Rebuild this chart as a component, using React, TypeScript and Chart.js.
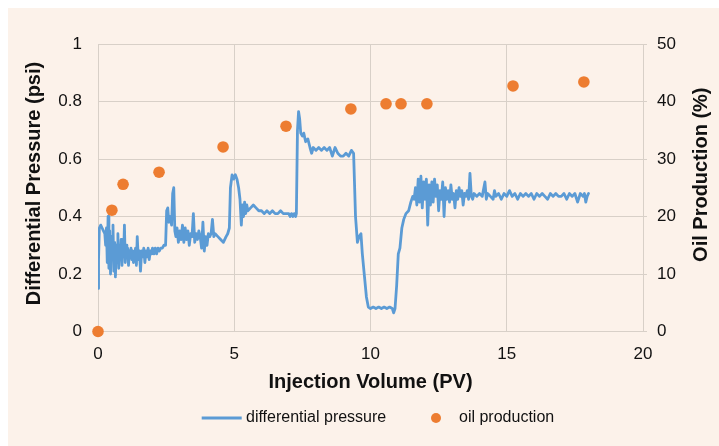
import React, { useEffect, useRef } from "react";
import { Chart, registerables } from "chart.js";

Chart.register(...registerables);

// Differential pressure (psi) vs injection volume (PV)
const pressureX = [
  0.0, 0.02, 0.05, 0.1, 0.15, 0.2, 0.25, 0.28, 0.31, 0.34, 0.37, 0.4, 0.43, 0.46, 0.49, 0.52, 0.55, 0.58, 0.61, 0.64,
  0.67, 0.7, 0.73, 0.76, 0.79, 0.82, 0.85, 0.88, 0.91, 0.94, 0.97, 1.0, 1.03, 1.06, 1.09, 1.12, 1.15, 1.18, 1.21, 1.24,
  1.27, 1.3, 1.34, 1.38, 1.41, 1.44, 1.48, 1.52, 1.56, 1.6, 1.64, 1.68, 1.72, 1.76, 1.8, 1.84, 1.88, 1.92, 1.96, 2.0,
  2.05, 2.1, 2.15, 2.2, 2.25, 2.3, 2.36,
  2.42, 2.48, 2.52, 2.56, 2.6, 2.65, 2.7, 2.74, 2.78, 2.82, 2.86, 2.9, 2.95, 3.0, 3.05, 3.1, 3.15, 3.2, 3.25, 3.3,
  3.35, 3.4, 3.45, 3.5, 3.55, 3.6, 3.65, 3.7, 3.75, 3.8, 3.85, 3.9, 3.95, 4.0, 4.05, 4.1, 4.15, 4.2, 4.25, 4.3, 4.4,
  4.5, 4.6, 4.7, 4.76,
  4.82, 4.86, 4.92, 4.98, 5.04, 5.1, 5.16, 5.21, 5.26, 5.3, 5.34, 5.38, 5.42, 5.46, 5.5, 5.6, 5.7, 5.8, 5.9, 6.0,
  6.1, 6.2, 6.3, 6.4, 6.5, 6.6, 6.7, 6.8, 6.9, 7.0, 7.05, 7.1, 7.15, 7.2, 7.25,
  7.28, 7.32, 7.36, 7.4, 7.44, 7.5, 7.55, 7.62, 7.7, 7.78, 7.84, 7.9, 8.0, 8.1, 8.2, 8.3, 8.4, 8.5, 8.6, 8.7, 8.8,
  8.9, 9.0, 9.1, 9.2, 9.3, 9.38, 9.45, 9.52, 9.58, 9.65, 9.7, 9.78, 9.85, 9.92,
  10.0, 10.1, 10.2, 10.3, 10.4, 10.5, 10.6, 10.7, 10.8, 10.85, 10.9, 10.96, 11.02, 11.08, 11.15, 11.22, 11.3, 11.4,
  11.48, 11.55,
  11.6, 11.65, 11.7, 11.75, 11.8, 11.85, 11.9, 11.95, 12.0, 12.05, 12.1, 12.15, 12.2, 12.25, 12.3, 12.35, 12.4,
  12.45, 12.5, 12.55, 12.6, 12.65, 12.7, 12.75, 12.8, 12.85, 12.9, 12.95, 13.0, 13.05, 13.1, 13.15, 13.2, 13.25,
  13.3, 13.35, 13.4, 13.45, 13.5, 13.55, 13.6, 13.65, 13.7, 13.75, 13.8, 13.9, 14.0, 14.1, 14.2, 14.25, 14.3, 14.4,
  14.5, 14.55, 14.6, 14.7, 14.8, 14.9, 15.0, 15.1, 15.2, 15.3, 15.4, 15.5, 15.6, 15.7, 15.8, 15.9, 16.0, 16.1, 16.2,
  16.3, 16.4, 16.5, 16.6, 16.7, 16.8, 16.9, 17.0, 17.1, 17.2, 17.3, 17.4, 17.5, 17.6, 17.7, 17.8, 17.85, 17.9,
  17.95, 18.0,
];
const pressureY = [
  0.15, 0.25, 0.36, 0.37, 0.36, 0.35, 0.34, 0.3, 0.36, 0.24, 0.4, 0.22, 0.35, 0.2, 0.33, 0.26, 0.37, 0.21, 0.31, 0.19,
  0.3, 0.24, 0.34, 0.22, 0.29, 0.25, 0.32, 0.23, 0.3, 0.26, 0.37, 0.24, 0.3, 0.26, 0.29, 0.23, 0.28, 0.26, 0.29, 0.25,
  0.28, 0.24, 0.27, 0.29, 0.23, 0.33, 0.25, 0.28, 0.21, 0.28, 0.26, 0.29, 0.24, 0.28, 0.26, 0.29, 0.25, 0.28, 0.27, 0.29,
  0.27, 0.29, 0.27, 0.29, 0.28, 0.29, 0.29,
  0.3, 0.3, 0.42, 0.43, 0.38, 0.4, 0.37, 0.48, 0.5, 0.35, 0.33, 0.36, 0.31, 0.35, 0.32, 0.37, 0.31, 0.36, 0.32, 0.35,
  0.3, 0.34, 0.33, 0.41, 0.31, 0.34, 0.32, 0.35, 0.33, 0.29, 0.38, 0.28, 0.33, 0.3, 0.34, 0.33, 0.34, 0.39, 0.33, 0.34, 0.33,
  0.32, 0.31, 0.33, 0.34,
  0.36, 0.5, 0.545, 0.53, 0.545, 0.53, 0.5, 0.46, 0.37, 0.44, 0.4, 0.45, 0.41, 0.44, 0.42, 0.43, 0.44, 0.43, 0.42, 0.42,
  0.41, 0.42, 0.41, 0.42, 0.41, 0.41, 0.42, 0.41, 0.41, 0.41, 0.4, 0.41, 0.4, 0.41, 0.4,
  0.41, 0.7, 0.765, 0.74, 0.69, 0.68, 0.69, 0.66, 0.67, 0.64, 0.62, 0.64, 0.63, 0.64, 0.63, 0.64, 0.63, 0.64, 0.61, 0.64, 0.62,
  0.61, 0.61, 0.62, 0.61, 0.63, 0.62, 0.4, 0.31, 0.33, 0.34, 0.27, 0.19, 0.12, 0.085,
  0.08, 0.085, 0.08, 0.085, 0.08, 0.085, 0.08, 0.085, 0.08, 0.065, 0.08, 0.16, 0.27, 0.29, 0.36, 0.39, 0.41, 0.42,
  0.45, 0.47,
  0.46, 0.5, 0.44, 0.53, 0.45, 0.54, 0.43, 0.52, 0.46, 0.53, 0.37, 0.51, 0.44, 0.52, 0.45, 0.53, 0.47,
  0.51, 0.42, 0.49, 0.46, 0.52, 0.4, 0.5, 0.46, 0.49, 0.45, 0.51, 0.46, 0.48, 0.43, 0.49, 0.46, 0.5,
  0.47, 0.49, 0.44, 0.48, 0.47, 0.49, 0.46, 0.55, 0.47, 0.46, 0.48, 0.47, 0.48, 0.47, 0.52, 0.46, 0.48, 0.47,
  0.46, 0.49, 0.47, 0.48, 0.46, 0.48, 0.47, 0.49, 0.47, 0.48, 0.46, 0.48, 0.47, 0.48, 0.47, 0.48, 0.46, 0.48, 0.47,
  0.48, 0.47, 0.46, 0.48, 0.47, 0.48, 0.47, 0.47, 0.48, 0.46, 0.48, 0.47, 0.48, 0.45, 0.48, 0.47, 0.48, 0.45,
  0.47, 0.48,
];

// Oil production (%) vs injection volume (PV)
const oilX = [0, 0.51, 0.92, 2.24, 4.59, 6.9, 9.28, 10.57, 11.12, 12.07, 15.23, 17.83];
const oilY = [0, 21.1, 25.6, 27.7, 32.1, 35.7, 38.7, 39.6, 39.6, 39.6, 42.7, 43.4];

const xTicks = [0, 5, 10, 15, 20];
const xTickLabels = ["0", "5", "10", "15", "20"];
const leftTicks = [0, 0.2, 0.4, 0.6, 0.8, 1];
const leftTickLabels = ["0", "0.2", "0.4", "0.6", "0.8", "1"];
const rightTicks = [0, 10, 20, 30, 40, 50];
const rightTickLabels = ["0", "10", "20", "30", "40", "50"];

const xTitle = "Injection Volume (PV)";
const leftTitle = "Differential Pressure (psi)";
const rightTitle = "Oil Production (%)";
const seriesNames = ["differential pressure", "oil production"];

const BLUE = "#5B9BD5";
const ORANGE = "#ED7D31";
const GRID = "#D8D0C8";
const TEXT = "#111111";
const BG = "#FCF2EA";
const FONT = "'Liberation Sans', Arial, sans-serif";

const decorPlugin = {
  id: "decor",
  beforeDraw(chart: any) {
    const ctx = chart.ctx;
    ctx.save();
    ctx.fillStyle = BG;
    ctx.fillRect(0, 0, chart.width, chart.height);
    ctx.restore();
  },
  afterDraw(chart: any) {
    const ctx = chart.ctx;
    ctx.save();
    // axis titles (both rotated -90deg)
    ctx.fillStyle = TEXT;
    ctx.font = `bold 20px ${FONT}`;
    ctx.textAlign = "center";
    ctx.textBaseline = "middle";
    ctx.save();
    ctx.translate(26.5, 175.5);
    ctx.rotate(-Math.PI / 2);
    ctx.fillText(leftTitle, 0, 0);
    ctx.restore();
    ctx.save();
    ctx.translate(693, 166.7);
    ctx.rotate(-Math.PI / 2);
    ctx.fillText(rightTitle, 0, 0);
    ctx.restore();

    // legend
    const ds = chart.data.datasets;
    const ly = 410;
    ctx.font = `16px ${FONT}`;
    ctx.textAlign = "left";
    ctx.strokeStyle = ds[0].borderColor;
    ctx.lineWidth = 3;
    ctx.beginPath();
    ctx.moveTo(193.7, ly);
    ctx.lineTo(233.7, ly);
    ctx.stroke();
    ctx.fillStyle = TEXT;
    ctx.fillText(ds[0].label, 238, ly);
    ctx.fillStyle = ds[1].backgroundColor;
    ctx.beginPath();
    ctx.arc(428, ly, 5, 0, Math.PI * 2);
    ctx.fill();
    ctx.fillStyle = TEXT;
    ctx.fillText(ds[1].label, 451, ly);
    ctx.restore();
  },
};

function labelFor(values: number[], labels: string[]) {
  return (v: any) => {
    const i = values.indexOf(Number(v));
    return i >= 0 ? labels[i] : String(v);
  };
}

export default function App() {
  const ref = useRef<HTMLCanvasElement | null>(null);
  useEffect(() => {
    if (!ref.current) return;
    const pressure = pressureX.map((x, i) => ({ x, y: pressureY[i] }));
    const oil = oilX.map((x, i) => ({ x, y: oilY[i] }));
    const chart = new Chart(ref.current, {
      type: "line",
      data: {
        datasets: [
          {
            label: seriesNames[0],
            data: pressure,
            borderColor: BLUE,
            backgroundColor: BLUE,
            borderWidth: 2.8,
            borderJoinStyle: "round",
            borderCapStyle: "round",
            pointRadius: 0,
            tension: 0,
            yAxisID: "y",
            order: 2,
          } as any,
          {
            type: "scatter",
            label: seriesNames[1],
            data: oil,
            borderColor: ORANGE,
            backgroundColor: ORANGE,
            pointRadius: 5.8,
            pointBorderWidth: 0,
            showLine: false,
            yAxisID: "y1",
            clip: false,
            order: 1,
          } as any,
        ],
      },
      options: {
        responsive: false,
        animation: false,
        devicePixelRatio: 1,
        layout: { padding: { top: 36, left: 0, right: 0, bottom: 50 } },
        plugins: { legend: { display: false }, tooltip: { enabled: false } },
        scales: {
          x: {
            type: "linear",
            min: 0,
            max: 20,
            afterBuildTicks: (s: any) => {
              s.ticks = xTicks.map((v) => ({ value: v }));
            },
            afterFit: (s: any) => {
              s.height = 64.5;
            },
            grid: { color: GRID, drawTicks: false, lineWidth: 1 },
            border: { color: GRID },
            ticks: {
              padding: 13,
              color: TEXT,
              font: { family: FONT, size: 17 },
              callback: labelFor(xTicks, xTickLabels),
            },
            title: {
              display: true,
              text: xTitle,
              color: TEXT,
              font: { family: FONT, size: 20, weight: "bold" },
              padding: { top: 0, bottom: 2 },
            },
          },
          y: {
            type: "linear",
            position: "left",
            min: 0,
            max: 1,
            afterBuildTicks: (s: any) => {
              s.ticks = leftTicks.map((v) => ({ value: v }));
            },
            afterFit: (s: any) => {
              s.width = 90;
            },
            grid: { color: GRID, drawTicks: false, lineWidth: 1 },
            border: { color: GRID },
            ticks: {
              padding: 16,
              color: TEXT,
              font: { family: FONT, size: 17 },
              callback: labelFor(leftTicks, leftTickLabels),
            },
          },
          y1: {
            type: "linear",
            position: "right",
            min: 0,
            max: 50,
            afterBuildTicks: (s: any) => {
              s.ticks = rightTicks.map((v) => ({ value: v }));
            },
            afterFit: (s: any) => {
              s.width = 76;
            },
            grid: { color: GRID, drawOnChartArea: false, drawTicks: true, tickLength: 4, lineWidth: 1 },
            border: { color: GRID },
            ticks: {
              padding: 10,
              color: TEXT,
              font: { family: FONT, size: 17 },
              callback: labelFor(rightTicks, rightTickLabels),
            },
          },
        },
      },
      plugins: [decorPlugin],
    });
    return () => chart.destroy();
  }, []);

  return (
    <div style={{ position: "fixed", left: 8, top: 8, width: 711, height: 438, background: BG }}>
      <canvas ref={ref} width={711} height={438} style={{ display: "block" }} />
    </div>
  );
}
